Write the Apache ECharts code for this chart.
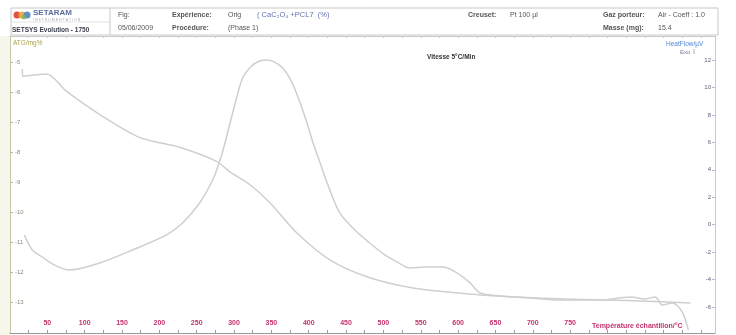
<!DOCTYPE html>
<html>
<head>
<meta charset="utf-8">
<title>SETSYS Evolution - 1750</title>
<script src="https://cdn.jsdelivr.net/npm/echarts@6/dist/echarts.min.js"></script>
<style>
  html, body { margin: 0; padding: 0; background: #ffffff; }
  #chart { width: 736px; height: 335px; }
</style>
</head>
<body>
<div id="chart"></div>
<script>
// Thermogravimetry (mass loss) curve, left axis
const tgTemp = [16.5, 17, 48.7, 75.5, 119.8, 173.4, 227, 276.6, 294, 320.9, 347.7, 383.9, 428.2, 481.8, 539.5, 598.5, 629.3, 736.6, 843.9, 911];
const tgMass = [-5.23, -5.47, -5.40, -5.97, -6.74, -7.51, -7.84, -8.31, -8.65, -9.08, -9.68, -10.69, -11.59, -12.19, -12.53, -12.69, -12.76, -12.89, -12.96, -13.03];

// Heat flow curve, right axis
const hfTemp = [19.2, 29.9, 43.3, 59.4, 79.5, 119.8, 164, 209.6, 231, 253.9, 271.3, 283.4, 294, 303.4, 311.5, 323.6, 334.3, 343.7, 354.4, 365.2, 377.2, 388, 397.3, 405.4, 414.8, 424.2, 441.6, 461.7, 481.8, 502, 518, 535.5, 555.6, 579.7, 598.5, 616, 629.3, 656, 696.3, 736.6, 790.3, 830.5, 850.7, 864, 873.4, 886.8, 900.2, 908.3];
const hfSignal = [-0.75, -1.85, -2.36, -2.94, -3.31, -2.80, -1.85, -0.75, 0.12, 1.58, 3.25, 5.08, 7.26, 9.23, 10.69, 11.56, 11.93, 12.0, 11.85, 11.42, 10.40, 8.94, 7.48, 6.02, 4.57, 3.11, 0.85, -0.39, -1.34, -2.21, -2.72, -3.16, -3.09, -3.09, -3.52, -4.25, -4.98, -5.20, -5.35, -5.49, -5.49, -5.27, -5.42, -5.27, -5.86, -5.71, -6.37, -7.68];

// Tick labels
const tempTicks = [50, 100, 150, 200, 250, 300, 350, 400, 450, 500, 550, 600, 650, 700, 750];
const tempMinorTicks = [25, 50, 75, 100, 125, 150, 175, 200, 225, 250, 275, 300, 325, 350, 375, 400, 425, 450, 475, 500, 525, 550, 575, 600, 625, 650, 675, 700, 725, 750, 775, 800, 825, 850, 875, 900, 925];
const massTicks = [-5, -6, -7, -8, -9, -10, -11, -12, -13];
const flowTicks = [12, 10, 8, 6, 4, 2, 0, -2, -4, -6];

const tgData = tgTemp.map((t, i) => [t, tgMass[i]]);
const hfData = hfTemp.map((t, i) => [t, hfSignal[i]]);

const FONT = 'Liberation Sans, Arial, sans-serif';
const chart = echarts.init(document.getElementById('chart'), null, { renderer: 'canvas' });

const headerText = (x, y, text, style) => ({
  type: 'text', x: x, y: y,
  style: Object.assign({ text: text, fontFamily: FONT, fontSize: 7, fill: '#555', textVerticalAlign: 'middle' }, style || {})
});

chart.setOption({
  animation: false,
  backgroundColor: '#ffffff',
  grid: { left: 10, right: 21, top: 36, bottom: 2, containLabel: false },
  xAxis: [
    {
      type: 'value', position: 'bottom', min: 0, max: 944,
      axisLine: { show: true, onZero: false, lineStyle: { color: '#9a9a9a', width: 1 } },
      axisTick: { show: true, inside: true, length: 3, customValues: tempMinorTicks, lineStyle: { color: '#9a9a9a' } },
      axisLabel: {
        show: true, inside: true, margin: 6, customValues: tempTicks,
        color: '#c2336e', fontSize: 7, fontWeight: 'bold', fontFamily: FONT
      },
      splitLine: { show: false }
    },
    {
      type: 'value', position: 'top', min: 0, max: 944,
      axisLine: { show: true, onZero: false, lineStyle: { color: '#c9c9c9', width: 1 } },
      axisTick: { show: true, inside: true, length: 2, customValues: tempMinorTicks, lineStyle: { color: '#c9c9c9' } },
      axisLabel: { show: false },
      splitLine: { show: false }
    }
  ],
  yAxis: [
    {
      type: 'value', position: 'left', min: -14.03, max: -4.13,
      axisLine: { show: true, onZero: false, lineStyle: { color: '#c7c9a8', width: 1 } },
      axisTick: { show: true, inside: true, length: 3, customValues: massTicks, lineStyle: { color: '#b9bb98' } },
      axisLabel: {
        show: true, inside: true, margin: 5, customValues: massTicks,
        color: '#8a8a7a', fontSize: 6, fontFamily: FONT
      },
      splitLine: { show: false }
    },
    {
      type: 'value', position: 'right', min: -7.9, max: 13.75,
      axisLine: { show: true, onZero: false, lineStyle: { color: '#c4c8d8', width: 1 } },
      axisTick: { show: true, inside: true, length: 3, customValues: flowTicks, lineStyle: { color: '#b4b8cc' } },
      axisLabel: {
        show: true, inside: true, margin: 4, customValues: flowTicks,
        color: '#5a5a78', fontSize: 6, fontFamily: FONT
      },
      splitLine: { show: false }
    }
  ],
  series: [
    {
      name: 'TG', type: 'line', xAxisIndex: 0, yAxisIndex: 0, data: tgData,
      smooth: 0.3, showSymbol: false, lineStyle: { color: '#cfcfcf', width: 1.5 }
    },
    {
      name: 'HeatFlow', type: 'line', xAxisIndex: 0, yAxisIndex: 1, data: hfData,
      smooth: 0.3, showSymbol: false, lineStyle: { color: '#cfcfcf', width: 1.5 }
    }
  ],
  graphic: [
    // left margin strip
    { type: 'rect', shape: { x: 0, y: 36, width: 10, height: 299 }, style: { fill: '#f6f7ea' }, silent: true, z: -10 },
    // header frame
    { type: 'rect', shape: { x: 11, y: 8, width: 707, height: 27 }, style: { fill: 'none', stroke: '#c8c8c8', lineWidth: 1 }, silent: true },
    { type: 'line', shape: { x1: 11, y1: 22, x2: 110, y2: 22 }, style: { stroke: '#e2e2e2', lineWidth: 1 } },
    { type: 'line', shape: { x1: 110, y1: 8, x2: 110, y2: 35 }, style: { stroke: '#c8c8c8', lineWidth: 1 } },
    // logo blobs
    { type: 'circle', shape: { cx: 17, cy: 15, r: 3.5 }, style: { fill: '#e0553a' } },
    { type: 'circle', shape: { cx: 22, cy: 15, r: 3.5 }, style: { fill: '#f0a640', opacity: 0.9 } },
    { type: 'circle', shape: { cx: 27, cy: 15, r: 3.5 }, style: { fill: '#4f7fc8', opacity: 0.9 } },
    { type: 'circle', shape: { cx: 24, cy: 17, r: 2.5 }, style: { fill: '#74b45a', opacity: 0.8 } },
    headerText(33, 13, 'SETARAM', { fill: '#5b6e9e', fontSize: 8, fontWeight: 'bold' }),
    headerText(33, 20, 'I N S T R U M E N T A T I O N', { fill: '#a7a7b6', fontSize: 3.5 }),
    headerText(12, 30, 'SETSYS Evolution - 1750', { fill: '#3e4050', fontSize: 6.5, fontWeight: 'bold' }),
    headerText(118, 15, 'Fig:'),
    headerText(118, 28, '05/06/2009'),
    headerText(172, 15, 'Expérience:', { fontWeight: 'bold' }),
    headerText(228, 15, 'Orig'),
    headerText(257, 15, '( CaC\u2082O\u2084 +PCL7  (%)', { fill: '#6272b2', fontSize: 7.5 }),
    headerText(172, 28, 'Procédure:', { fontWeight: 'bold' }),
    headerText(228, 28, '(Phase 1)'),
    headerText(468, 15, 'Creuset:', { fontWeight: 'bold' }),
    headerText(510, 15, 'Pt 100 µl'),
    headerText(603, 15, 'Gaz porteur:', { fontWeight: 'bold' }),
    headerText(658, 15, 'Air - Coeff : 1.0'),
    headerText(603, 28, 'Masse (mg):', { fontWeight: 'bold' }),
    headerText(658, 28, '15.4'),
    // axis titles and annotations
    headerText(13, 43, 'ATG/mg%', { fill: '#a9a24a', fontSize: 6.5 }),
    headerText(666, 44, 'HeatFlow/µV', { fill: '#4d86d6', fontSize: 6.5 }),
    headerText(680, 52, 'Exo', { fill: '#7a7a9a', fontSize: 6 }),
    { type: 'line', shape: { x1: 694, y1: 54, x2: 694, y2: 49 }, style: { stroke: '#9a9ab4', lineWidth: 0.8 } },
    headerText(427, 57, 'Vitesse 5°C/Min', { fill: '#333', fontSize: 6.5, fontWeight: 'bold' }),
    headerText(592, 326, 'Température échantillon/°C', { fill: '#c2336e', fontSize: 7, fontWeight: 'bold' })
  ]
});
</script>
</body>
</html>
